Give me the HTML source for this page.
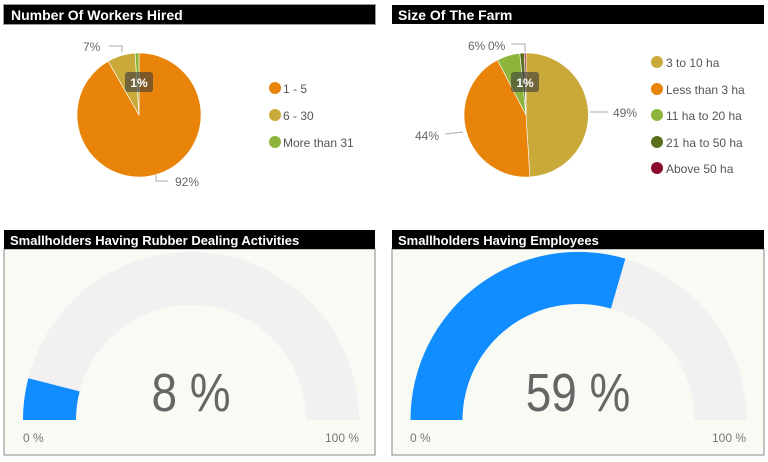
<!DOCTYPE html>
<html><head><style>
body{margin:0;width:768px;height:457px;background:#fff;overflow:hidden;font-family:"Liberation Sans",sans-serif}
</style></head><body>
<svg width="768" height="457" viewBox="0 0 768 457" xmlns="http://www.w3.org/2000/svg" font-family="Liberation Sans, sans-serif">
<rect x="4" y="5" width="371" height="19" fill="#000"/>
<rect x="3.5" y="4.5" width="372" height="20" fill="none" stroke="#999"/>
<text x="11" y="20" fill="#fff" font-size="14" font-weight="bold">Number Of Workers Hired</text>
<rect x="392" y="5" width="372" height="19" fill="#000"/>
<text x="398" y="20" fill="#fff" font-size="14" font-weight="bold">Size Of The Farm</text>

<g stroke="#fff" stroke-width="0.6">
<path d="M139,115 L139,53 A62,62 0 1,1 108.2,61.2 Z" fill="#E8840A"/>
<path d="M139,115 L108.2,61.2 A62,62 0 0,1 135.1,53.1 Z" fill="#C9A93A"/>
<path d="M139,115 L135.1,53.1 A62,62 0 0,1 139,53 Z" fill="#8DB53C"/>
</g>
<rect x="125" y="72" width="28" height="20" rx="3" fill="#3a3a3a" fill-opacity="0.6"/>
<text x="139" y="87" fill="#fff" font-size="12" font-weight="bold" text-anchor="middle">1%</text>
<polyline points="109,46 122,46 122,52" fill="none" stroke="#aaa"/>
<text x="83" y="51" fill="#666" font-size="12">7%</text>
<polyline points="156,175 156,181 168,181" fill="none" stroke="#aaa"/>
<text x="175" y="186" fill="#666" font-size="12">92%</text>
<circle cx="275" cy="88" r="6" fill="#E8840A"/><text x="283" y="93" fill="#555" font-size="12">1 - 5</text>
<circle cx="275" cy="115" r="6" fill="#C9A93A"/><text x="283" y="120" fill="#555" font-size="12">6 - 30</text>
<circle cx="275" cy="142" r="6" fill="#8DB53C"/><text x="283" y="147" fill="#555" font-size="12">More than 31</text>

<g stroke="#fff" stroke-width="0.6">
<path d="M526,115 L526,53 A62,62 0 0,1 529.9,176.9 Z" fill="#C9A93A"/>
<path d="M526,115 L529.9,176.9 A62,62 0 0,1 497.5,60.0 Z" fill="#E8840A"/>
<path d="M526,115 L497.5,60.0 A62,62 0 0,1 519.8,53.3 Z" fill="#8DB53C"/>
<path d="M526,115 L519.8,53.3 A62,62 0 0,1 524.4,53.0 Z" fill="#5A6F1E"/>
<path d="M526,115 L524.4,53.0 A62,62 0 0,1 526,53 Z" fill="#8B0A2E"/>
</g>
<rect x="511" y="72" width="28" height="20" rx="3" fill="#3a3a3a" fill-opacity="0.6"/>
<text x="525" y="87" fill="#fff" font-size="12" font-weight="bold" text-anchor="middle">1%</text>
<polyline points="511,44 525,44 525,52" fill="none" stroke="#aaa"/>
<text x="468" y="50" fill="#666" font-size="12">6%</text>
<text x="488" y="50" fill="#666" font-size="12">0%</text>
<line x1="590" y1="112" x2="608" y2="112" stroke="#aaa"/>
<text x="613" y="117" fill="#666" font-size="12">49%</text>
<line x1="445" y1="134" x2="463" y2="132" stroke="#aaa"/>
<text x="415" y="140" fill="#666" font-size="12">44%</text>
<circle cx="657" cy="62" r="6" fill="#C9A93A"/><text x="666" y="67" fill="#555" font-size="12">3 to 10 ha</text>
<circle cx="657" cy="89" r="6" fill="#E8840A"/><text x="666" y="94" fill="#555" font-size="12">Less than 3 ha</text>
<circle cx="657" cy="115" r="6" fill="#8DB53C"/><text x="666" y="120" fill="#555" font-size="12">11 ha to 20 ha</text>
<circle cx="657" cy="142" r="6" fill="#5A6F1E"/><text x="666" y="147" fill="#555" font-size="12">21 ha to 50 ha</text>
<circle cx="657" cy="168" r="6" fill="#8B0A2E"/><text x="666" y="173" fill="#555" font-size="12">Above 50 ha</text>

<rect x="4" y="249" width="371" height="206" fill="#F8FAF4" stroke="#888"/>
<rect x="4" y="230" width="371" height="19" fill="#000"/>
<text x="10" y="245" fill="#fff" font-size="13" font-weight="bold">Smallholders Having Rubber Dealing Activities</text>
<rect x="392" y="249" width="372" height="206" fill="#F8FAF4" stroke="#888"/>
<rect x="392" y="230" width="372" height="19" fill="#000"/>
<text x="398" y="245" fill="#fff" font-size="13" font-weight="bold">Smallholders Having Employees</text>

<path d="M23,420 A168,168 0 0,1 359,420 L306,420 A115,115 0 0,0 76,420 Z" fill="#F2F0F0"/>
<path d="M23,420 A168,168 0 0,1 28.3,378.2 L79.6,391.4 A115,115 0 0,0 76,420 Z" fill="#118DFF"/>
<text transform="translate(191,411) scale(0.85,1)" fill="#666" font-size="54" text-anchor="middle">8 %</text>
<text x="23" y="442" fill="#777" font-size="12">0 %</text>
<text x="359" y="442" fill="#777" font-size="12" text-anchor="end">100 %</text>

<path d="M410.5,420 A168,168 0 0,1 746.5,420 L694.5,420 A116,116 0 0,0 462.5,420 Z" fill="#F2F0F0"/>
<path d="M410.5,420 A168,168 0 0,1 625.4,258.6 L610.9,308.6 A116,116 0 0,0 462.5,420 Z" fill="#118DFF"/>
<text transform="translate(578,411) scale(0.85,1)" fill="#666" font-size="54" text-anchor="middle">59 %</text>
<text x="410" y="442" fill="#777" font-size="12">0 %</text>
<text x="746" y="442" fill="#777" font-size="12" text-anchor="end">100 %</text>
</svg>
</body></html>
